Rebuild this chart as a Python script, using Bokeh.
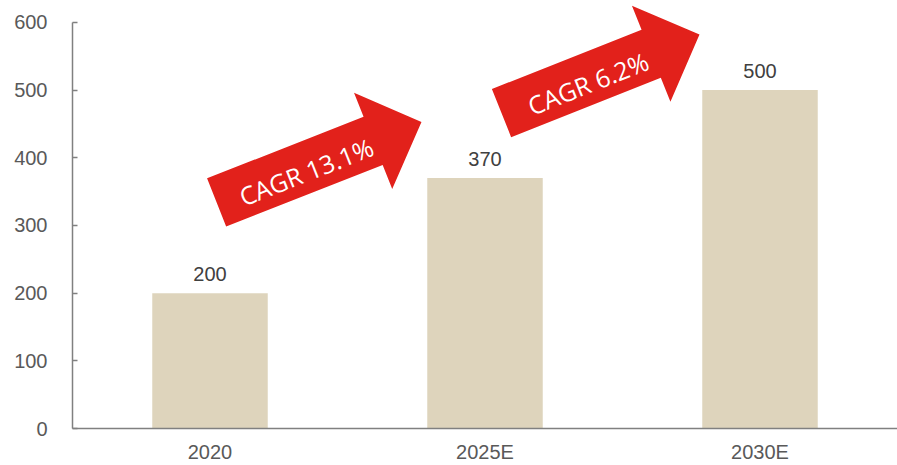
import math
from bokeh.plotting import figure
from bokeh.models import FactorRange, Range1d, FixedTicker, ColumnDataSource
from bokeh.core.properties import value
from bokeh.embed import file_html
from bokeh.resources import INLINE

# ---- data ----
categories = ["2020", "2025E", "2030E"]
values = [200, 370, 500]
y_ticks = [0, 100, 200, 300, 400, 500, 600]
cagr_labels = ["CAGR 13.1%", "CAGR 6.2%"]
# arrow annotations: tail-centre and tip, in (synthetic x, y value)
arrow_tails = [(0.524, 334), (1.56, 466)]
arrow_tips = [(1.269, 453), (2.28, 582)]

# ---- layout ----
W, H = 897, 465
BL, BR, BT, BB = 72, 0, 0, 35
FRAME_W, FRAME_H = W - BL - BR, H - BT - BB
Y_AXIS_MAX = 600
AXIS_PX = 408                      # pixel height of the 0..600 axis
Y_END = Y_AXIS_MAX * FRAME_H / AXIS_PX   # headroom so the arrow head is not clipped
px_x = FRAME_W / len(categories)
px_y = FRAME_H / Y_END

BAR_COLOR = "#DED4BC"
RED = "#E2211B"
AXIS_COLOR = "#808080"
TEXT_COLOR = "#595959"

p = figure(x_range=FactorRange(*categories), y_range=Range1d(0, Y_END),
           width=W, height=H, output_backend="svg", toolbar_location=None,
           min_border_left=BL, min_border_right=BR, min_border_top=BT,
           min_border_bottom=BB)
p.outline_line_color = None
p.grid.visible = False
p.background_fill_color = "white"
p.border_fill_color = "white"

src = ColumnDataSource(dict(cat=categories, val=values, lab=[str(v) for v in values]))
p.vbar(x="cat", top="val", width=0.42, source=src, fill_color=BAR_COLOR, line_color=None)
p.text(x="cat", y="val", text="lab", source=src, text_align="center",
       text_baseline="bottom", y_offset=-12, text_font=value("Liberation Sans"),
       text_font_size="20px", text_color="#404040")

# arrows
BW, HW, HL = 26, 52, 52
for (tx, ty), (ex, ey), lab in zip(arrow_tails, arrow_tips, cagr_labels):
    dxp, dyp = (ex - tx) * px_x, (ey - ty) * px_y
    L = math.hypot(dxp, dyp)
    ux, uy = dxp / L, dyp / L
    nx, ny = -uy, ux
    local = [(0, -BW), (L - HL, -BW), (L - HL, -HW), (L, 0), (L - HL, HW), (L - HL, BW), (0, BW)]
    xs, ys = [], []
    for u, v in local:
        px_ = u * ux + v * nx
        py_ = u * uy + v * ny
        xs.append(tx + px_ / px_x)
        ys.append(ty + py_ / px_y)
    p.patch(xs, ys, fill_color=RED, line_color=None)
    f = 0.43
    off = -4
    cx = tx + (f * L * ux + off * nx) / px_x
    cy = ty + (f * L * uy + off * ny) / px_y
    p.text(x=[cx], y=[cy], text=[lab], angle=math.atan2(dyp, dxp),
           text_align="center", text_baseline="middle",
           text_font=value("Open Sans"), text_font_size="25px", text_color="white")

# axes
yax = p.yaxis[0]
yax.ticker = FixedTicker(ticks=y_ticks)
yax.bounds = (0, Y_AXIS_MAX)
yax.axis_line_color = AXIS_COLOR
yax.axis_line_width = 1.5
yax.major_tick_line_color = AXIS_COLOR
yax.major_tick_line_width = 1.5
yax.major_tick_in = 5
yax.major_tick_out = 0
yax.minor_tick_line_color = None
yax.minor_tick_out = 0
yax.major_label_standoff = 25
yax.major_label_text_font = "Liberation Sans"
yax.major_label_text_font_size = "20px"
yax.major_label_text_color = TEXT_COLOR

xax = p.xaxis[0]
xax.axis_line_color = AXIS_COLOR
xax.axis_line_width = 1.5
xax.major_tick_line_color = None
xax.minor_tick_line_color = None
xax.major_tick_in = 0
xax.major_tick_out = 0
xax.minor_tick_out = 0
xax.major_label_standoff = 12
xax.major_label_text_font = "Liberation Sans"
xax.major_label_text_font_size = "20px"
xax.major_label_text_color = TEXT_COLOR

open("out.html", "w").write(file_html(p, INLINE))
